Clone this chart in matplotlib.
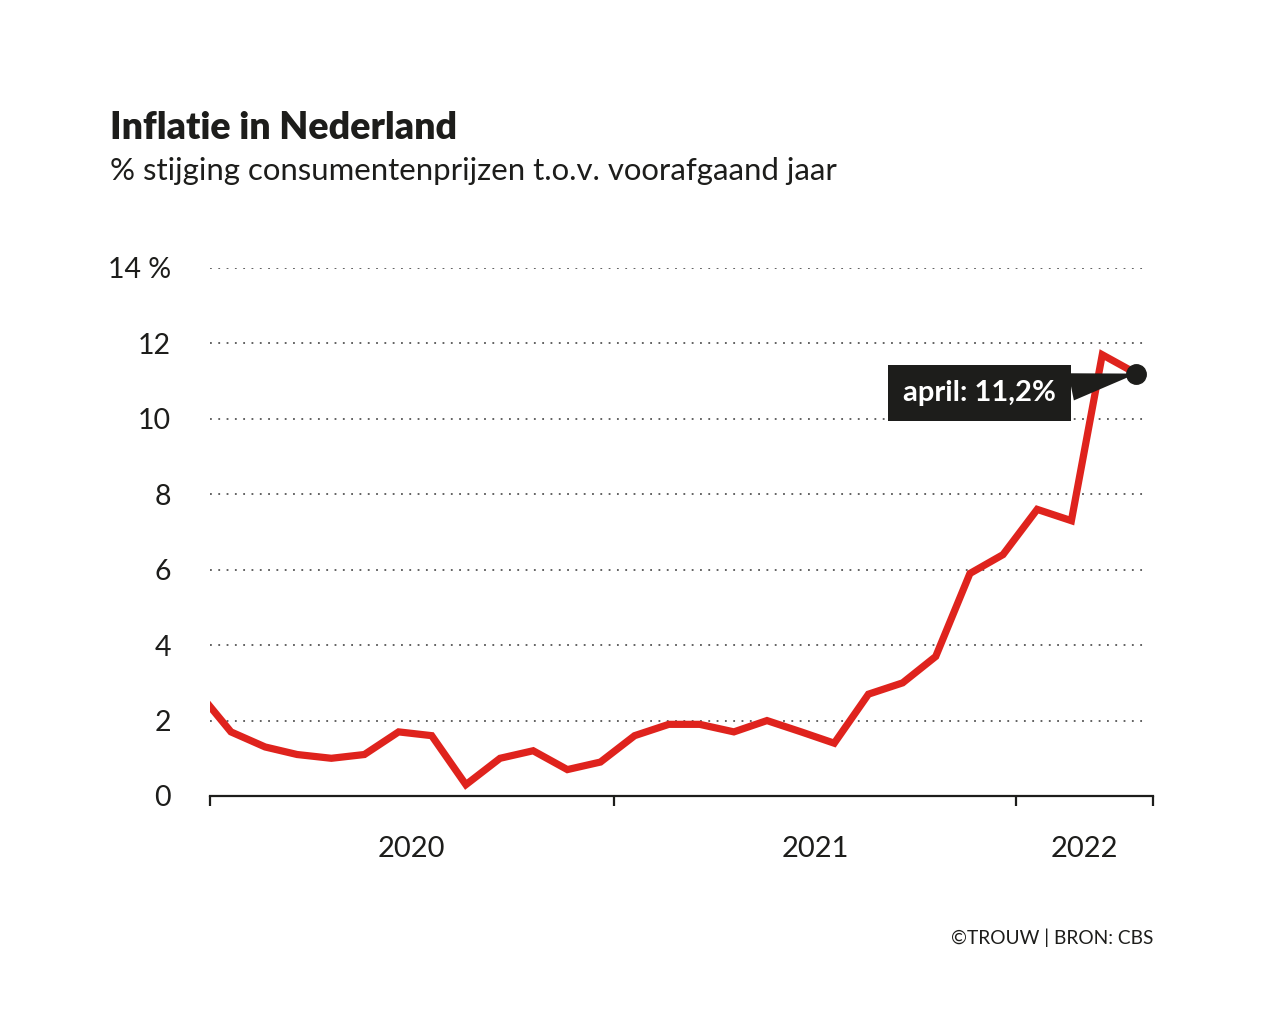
import matplotlib
matplotlib.use("Agg")
import matplotlib.pyplot as plt
import matplotlib.dates as mdates
import numpy as np

plt.rcParams['font.family'] = ['Lato', 'DejaVu Sans']

# maandelijkse inflatie (HICP), gedateerd rond de 20e van de maand
dates = np.arange(np.datetime64('2019-12'), np.datetime64('2022-05')).astype('datetime64[D]') + 19
inflation = [2.8,
             1.7, 1.3, 1.1, 1.0, 1.1, 1.7, 1.6, 0.3, 1.0, 1.2, 0.7, 0.9,
             1.6, 1.9, 1.9, 1.7, 2.0, 1.7, 1.4, 2.7, 3.0, 3.7, 5.9, 6.4,
             7.6, 7.3, 11.7, 11.2]
year_ticks = ['2020-01-01', '2021-01-01', '2022-01-01', '2022-05-05']
year_labels = ['2020', '2021', '2022']
y_ticks = [0, 2, 4, 6, 8, 10, 12, 14]
y_labels = ['0', '2', '4', '6', '8', '10', '12', '14 %']

INK = '#1d1d1b'
RED = '#df231d'

W, H = 1262, 1030
fig = plt.figure(figsize=(W / 100, H / 100), dpi=100)
ax = fig.add_axes([210 / W, (H - 796) / H, (1153 - 210) / W, (796 - 268) / H])

x = mdates.date2num(dates)
ax.plot(x, inflation, color=RED, lw=5.2, solid_capstyle='round', solid_joinstyle='miter', zorder=3)
ax.plot(x[-1], inflation[-1], 'o', color=INK, ms=14, zorder=5)

tick_x = mdates.date2num(np.array(year_ticks, dtype='datetime64[D]'))
ax.set_xlim(tick_x[0], tick_x[-1])
ax.set_ylim(0, 14)

ax.set_yticks(y_ticks)
ax.set_yticklabels(y_labels)
ax.tick_params(axis='y', length=0, pad=28, labelsize=20.5, labelcolor=INK)

ax.set_xticks(tick_x)
ax.set_xticklabels([])
ax.tick_params(axis='x', which='major', length=7, width=1.6, color=INK, direction='out')
mids = (tick_x[:-1] + tick_x[1:]) / 2
ax.set_xticks(mids, minor=True)
ax.set_xticklabels(year_labels, minor=True)
ax.tick_params(axis='x', which='minor', length=0, pad=29, labelsize=21, labelcolor=INK)

for s in ['top', 'right', 'left']:
    ax.spines[s].set_visible(False)
ax.spines['bottom'].set_color(INK)
ax.spines['bottom'].set_linewidth(1.6)

for v in y_ticks[1:]:
    ax.axhline(v, xmax=0.995, color='#555555', lw=1.3, ls=(0, (1, 3.6)), zorder=1)

ax.annotate('april: 11,2%', xy=(x[-1], inflation[-1]), xytext=(-113, -14),
            textcoords='offset points', ha='center', va='center',
            fontsize=21, fontweight='bold', color='white',
            bbox=dict(boxstyle='square,pad=0.52', fc=INK, ec='none'),
            arrowprops=dict(arrowstyle='wedge,tail_width=0.95', fc=INK, ec='none',
                            relpos=(1.0, 0.62), shrinkA=0, shrinkB=0),
            zorder=4)

fig.text(110 / W, 1 - 128 / H, 'Inflatie in Nederland', fontsize=27, fontweight='heavy',
         color=INK, va='center', ha='left')
fig.text(110 / W, 1 - 171 / H, '% stijging consumentenprijzen t.o.v. voorafgaand jaar',
         fontsize=22.4, color=INK, va='center', ha='left')
fig.text(1153 / W, 1 - 938 / H, '©TROUW | BRON: CBS', fontsize=13.8,
         color=INK, va='center', ha='right')

fig.savefig('out.png', dpi=100, facecolor='white')
